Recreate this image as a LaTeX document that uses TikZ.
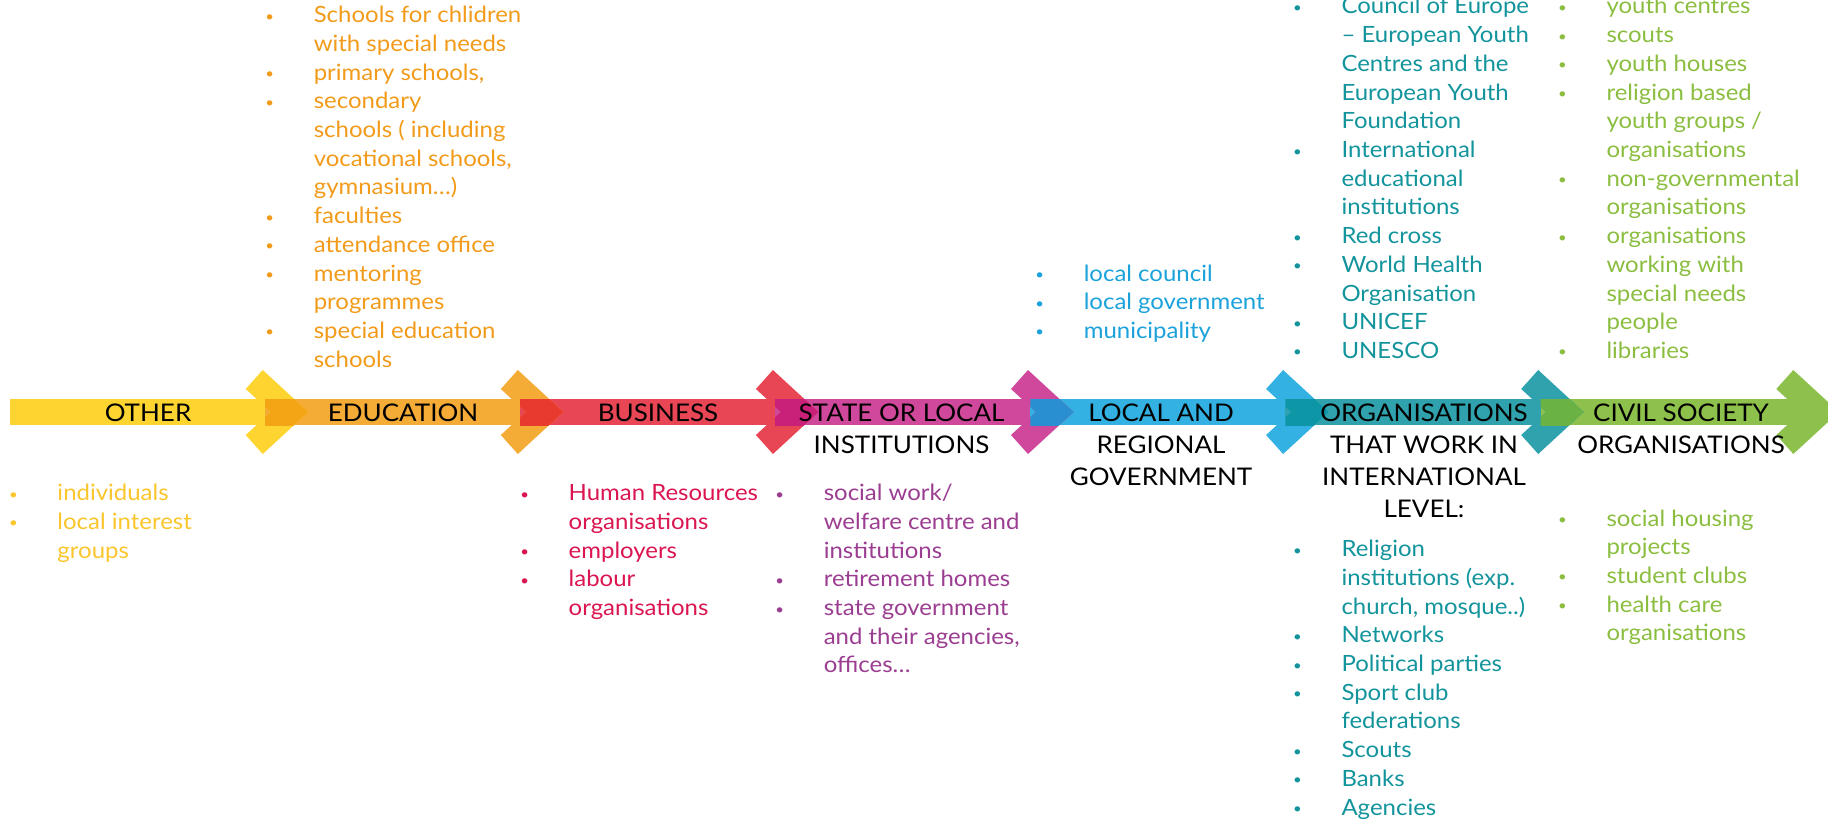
\documentclass[tikz,border=0pt]{standalone}
\usepackage{fontspec}
\setmainfont{Lato}[FakeStretch=1.07]
\usepackage{array}
\definecolor{cY}{HTML}{FED530}
\definecolor{cO}{HTML}{F4AC37}
\definecolor{cR}{HTML}{E84654}
\definecolor{cM}{HTML}{D0489B}
\definecolor{cB}{HTML}{33B1E3}
\definecolor{cT}{HTML}{2FA2AD}
\definecolor{cG}{HTML}{8EC14B}
\definecolor{oYO}{HTML}{F4A516}
\definecolor{oOR}{HTML}{E83A2E}
\definecolor{oRM}{HTML}{C9217A}
\definecolor{oMB}{HTML}{2A8FD0}
\definecolor{oBT}{HTML}{0D97A6}
\definecolor{oTG}{HTML}{6BB245}
\definecolor{tOt}{HTML}{FBC52C}
\definecolor{tEd}{HTML}{F29B1B}
\definecolor{tBu}{HTML}{DA1550}
\definecolor{tSt}{HTML}{9B3D91}
\definecolor{tLo}{HTML}{1BA2DB}
\definecolor{tOr}{HTML}{13949C}
\definecolor{tCi}{HTML}{8BBE40}
\newcommand{\bul}{\makebox[0pt]{\raisebox{1.5bp}{\fontsize{14}{14}\selectfont •}}}
\newenvironment{blist}{\begin{tabular}[t]{@{}l@{\hspace{44bp}}l@{}}}{\end{tabular}}
\newenvironment{hlist}{\begin{tabular}[t]{@{}c@{}}}{\end{tabular}}
\tikzset{
  listnode/.style={inner sep=0pt, anchor=base west, font=\fontsize{22.4bp}{28.7bp}\selectfont},
  headnode/.style={inner sep=0pt, anchor=base, text=black, font=\fontsize{24.3bp}{32bp}\selectfont},
}
\begin{document}
\begin{tikzpicture}[x=1bp,y=-1bp]
\useasboundingbox (0,0) rectangle (1828,820);
% bars
\foreach \i/\col in {0/cY,1/cO,2/cR,3/cM,4/cB,5/cT,6/cG}{
  \pgfmathsetmacro\xs{ifthenelse(\i==0,10,262.7+255.1*(\i-1)+2.3)}
  \pgfmathsetmacro\xe{ifthenelse(\i==6,262.7+255.1*6+10,262.7+255.1*\i+2.3)}
  \fill[\col] (\xs,399.3) rectangle (\xe,425);
}
\foreach \i/\col in {0/cY,1/cO,2/cR,3/cM,4/cB,5/cT,6/cG}{
  \pgfmathsetmacro\c{262.7+255.1*\i}
  \fill[\col] (\c,370) -- (\c+45.6,412) -- (\c,454) -- (\c-17,435) -- (\c+8,412) -- (\c-17,389) -- cycle;
}
\foreach \i/\col in {0/oYO,1/oOR,2/oRM,3/oMB,4/oBT,5/oTG}{
  \pgfmathsetmacro\c{262.7+255.1*\i}
  \begin{scope}
    \clip (\c+2.3,399.3) rectangle (\c+255.1+2.3,425);
    \fill[\col] (\c,370) -- (\c+45.6,412) -- (\c,454) -- (\c-17,435) -- (\c+8,412) -- (\c-17,389) -- cycle;
  \end{scope}
}
% headings
\node[headnode] (hOther) at (148,421.7) {\begin{hlist}OTHER\end{hlist}};
\node[headnode] (hEdu) at (403,421.7) {\begin{hlist}EDUCATION\end{hlist}};
\node[headnode] (hBus) at (658,421.7) {\begin{hlist}BUSINESS\end{hlist}};
\node[headnode] (hState) at (901.5,421.7) {\begin{hlist}STATE OR LOCAL\\INSTITUTIONS\end{hlist}};
\node[headnode] (hLocal) at (1161,421.7) {\begin{hlist}LOCAL AND\\REGIONAL\\GOVERNMENT\end{hlist}};
\node[headnode] (hOrg) at (1424,421.7) {\begin{hlist}ORGANISATIONS\\THAT WORK IN\\INTERNATIONAL\\LEVEL:\end{hlist}};
\node[headnode] (hCivil) at (1681,421.7) {\begin{hlist}CIVIL SOCIETY\\ORGANISATIONS\end{hlist}};
% lists
\node[listnode, text=tOt] (lOther) at (13.3,500.7) {\begin{blist}
\bul & individuals\\
\bul & local interest\\
 & groups
\end{blist}};
\node[listnode, text=tEd] (lEdu) at (269.6,22.7) {\begin{blist}
\bul & Schools for chlidren\\
 & with special needs\\
\bul & primary schools,\\
\bul & secondary\\
 & schools ( including\\
 & vocational schools,\\
 & gymnasium…)\\
\bul & faculties\\
\bul & attendance office\\
\bul & mentoring\\
 & programmes\\
\bul & special education\\
 & schools
\end{blist}};
\node[listnode, text=tBu] (lBus) at (524.5,500.7) {\begin{blist}
\bul & Human Resources\\
 & organisations\\
\bul & employers\\
\bul & labour\\
 & organisations
\end{blist}};
\node[listnode, text=tSt] (lState) at (779.6,500.7) {\begin{blist}
\bul & social work/\\
 & welfare centre and\\
 & institutions\\
\bul & retirement homes\\
\bul & state government\\
 & and their agencies,\\
 & offices…
\end{blist}};
\node[listnode, text=tLo] (lLocal) at (1039.6,281) {\begin{blist}
\bul & local council\\
\bul & local government\\
\bul & municipality
\end{blist}};
\node[listnode, text=tOr] (lOrgTop) at (1297.3,14) {\begin{blist}
\bul & Council of Europe\\
 & – European Youth\\
 & Centres and the\\
 & European Youth\\
 & Foundation\\
\bul & International\\
 & educational\\
 & institutions\\
\bul & Red cross\\
\bul & World Health\\
 & Organisation\\
\bul & UNICEF\\
\bul & UNESCO
\end{blist}};
\node[listnode, text=tOr] (lOrgBot) at (1297.3,556.7) {\begin{blist}
\bul & Religion\\
 & institutions (exp.\\
 & church, mosque..)\\
\bul & Networks\\
\bul & Political parties\\
\bul & Sport club\\
 & federations\\
\bul & Scouts\\
\bul & Banks\\
\bul & Agencies
\end{blist}};
\node[listnode, text=tCi] (lCivTop) at (1562.3,14) {\begin{blist}
\bul & youth centres\\
\bul & scouts\\
\bul & youth houses\\
\bul & religion based\\
 & youth groups /\\
 & organisations\\
\bul & non-governmental\\
 & organisations\\
\bul & organisations\\
 & working with\\
 & special needs\\
 & people\\
\bul & libraries
\end{blist}};
\node[listnode, text=tCi] (lCivBot) at (1562.3,526) {\begin{blist}
\bul & social housing\\
 & projects\\
\bul & student clubs\\
\bul & health care\\
 & organisations
\end{blist}};
\end{tikzpicture}
\end{document}
